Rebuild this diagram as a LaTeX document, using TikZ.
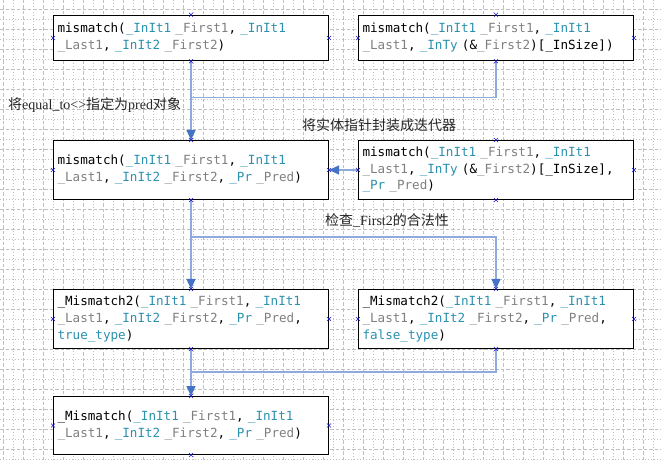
\documentclass[tikz,border=0pt]{standalone}
\usepackage{fontspec}
\setmainfont{Liberation Serif}
\newfontfamily\cjk{Noto Sans CJK SC}
\newfontfamily\codefont{DejaVu Sans Mono}
\usetikzlibrary{arrows.meta}
\definecolor{tycol}{RGB}{43,145,175}
\definecolor{pmcol}{RGB}{128,128,128}
\definecolor{linecol}{RGB}{143,170,220}
\definecolor{arrcol}{RGB}{68,114,196}
\definecolor{gridcol}{RGB}{192,192,192}
\definecolor{ptcol}{RGB}{20,20,210}
\newcommand\Ty[1]{\textcolor{tycol}{#1}}
\newcommand\Pm[1]{\textcolor{pmcol}{#1}}
\begin{document}
\begin{tikzpicture}[x=1pt,y=-1pt,
 box/.style={draw=black, line width=1pt, fill=white, anchor=north west,
   minimum width=275pt, text width=267pt, inner xsep=4pt, inner ysep=0pt,
   align=left, font=\codefont\fontsize{12.6}{16.7}\selectfont},
 conn/.style={draw=linecol, line width=1.3pt},
 arr/.style={conn, -{Triangle[length=10pt,width=9pt,color=arrcol]}},
 lbl/.style={anchor=west, inner sep=0pt, text=black!85, font=\fontsize{14}{16}\selectfont},
 xmark/.style={draw=ptcol, line width=0.6pt},
 gmaj/.style={draw=gridcol, line width=0.8pt, dash pattern=on 3.5pt off 2pt},
 gmin/.style={draw=gridcol, line width=0.8pt, dash pattern=on 1pt off 2pt},
]
\useasboundingbox (0,0) rectangle (661,462);
\fill[white] (0,0) rectangle (661,462);
% grid
\foreach \x in {3.3,23.3,...,661} \draw[gmaj] (\x,0) -- (\x,462);
\foreach \x in {13.3,33.3,...,661} \draw[gmin] (\x,0) -- (\x,462);
\foreach \y in {9.3,29.3,...,462} \draw[gmaj] (0,\y) -- (661,\y);
\foreach \y in {19.3,39.3,...,462} \draw[gmin] (0,\y) -- (661,\y);
% boxes
\node[box, minimum height=45.5pt] (b1) at (53,14.7)
 {mismatch(\Ty{\_InIt1} \Pm{\_First1}, \Ty{\_InIt1}\\
  \Pm{\_Last1}, \Ty{\_InIt2} \Pm{\_First2})};
\node[box, minimum height=45.5pt] (b2) at (358,14.7)
 {mismatch(\Ty{\_InIt1} \Pm{\_First1}, \Ty{\_InIt1}\\
  \Pm{\_Last1}, \Ty{\_InTy} (\&\Pm{\_First2})[\_InSize])};
\node[box, minimum height=59pt] (b3) at (53,140)
 {mismatch(\Ty{\_InIt1} \Pm{\_First1}, \Ty{\_InIt1}\\
  \Pm{\_Last1}, \Ty{\_InIt2} \Pm{\_First2}, \Ty{\_Pr} \Pm{\_Pred})};
\node[box, minimum height=59pt] (b4) at (358,140)
 {mismatch(\Ty{\_InIt1} \Pm{\_First1}, \Ty{\_InIt1}\\
  \Pm{\_Last1}, \Ty{\_InTy} (\&\Pm{\_First2})[\_InSize],\\
  \Ty{\_Pr} \Pm{\_Pred})};
\node[box, minimum height=59pt] (b5) at (53,289)
 {\_Mismatch2(\Ty{\_InIt1} \Pm{\_First1}, \Ty{\_InIt1}\\
  \Pm{\_Last1}, \Ty{\_InIt2} \Pm{\_First2}, \Ty{\_Pr} \Pm{\_Pred},\\
  \Ty{true\_type})};
\node[box, minimum height=59pt] (b6) at (358,289)
 {\_Mismatch2(\Ty{\_InIt1} \Pm{\_First1}, \Ty{\_InIt1}\\
  \Pm{\_Last1}, \Ty{\_InIt2} \Pm{\_First2}, \Ty{\_Pr} \Pm{\_Pred},\\
  \Ty{false\_type})};
\node[box, minimum height=58pt] (b7) at (53,396)
 {\_Mismatch(\Ty{\_InIt1} \Pm{\_First1}, \Ty{\_InIt1}\\
  \Pm{\_Last1}, \Ty{\_InIt2} \Pm{\_First2}, \Ty{\_Pr} \Pm{\_Pred})};
% helper coordinates
\coordinate (y1) at (0,97.5);
\coordinate (y2) at (0,237);
\coordinate (y3) at (0,372);
\coordinate (m1) at (b1.south |- y1);
\coordinate (m2) at (b3.south |- y2);
\coordinate (m3) at (b5.south |- y3);
% connectors
\draw[arr] (b1.south) -- (b3.north);
\draw[conn] (b2.south) |- (m1);
\draw[arr] (b4.west) -- (b3.east);
\draw[arr] (b3.south) -- (b5.north);
\draw[arr] (m2) -| (b6.north);
\draw[arr] (b5.south) -- (b7.north);
\draw[conn] (b6.south) |- (m3);
% labels
\node[lbl] (l1) at (8,105) {{\cjk 将}equal\_to<>{\cjk 指定为}pred{\cjk 对象}};
\node[lbl] (l2) at (302,125) {\cjk 将实体指针封装成迭代器};
\node[lbl] (l3) at (325,220) {{\cjk 检查}\_First2{\cjk 的合法性}};
% connection points
\foreach \b in {b1,b2,b3,b4,b5,b6,b7}
 \foreach \a in {north,south,east,west}
  \draw[xmark] (\b.\a) ++(-2,-2) -- ++(4,4) ++(-4,0) -- ++(4,-4);
\end{tikzpicture}
\end{document}
